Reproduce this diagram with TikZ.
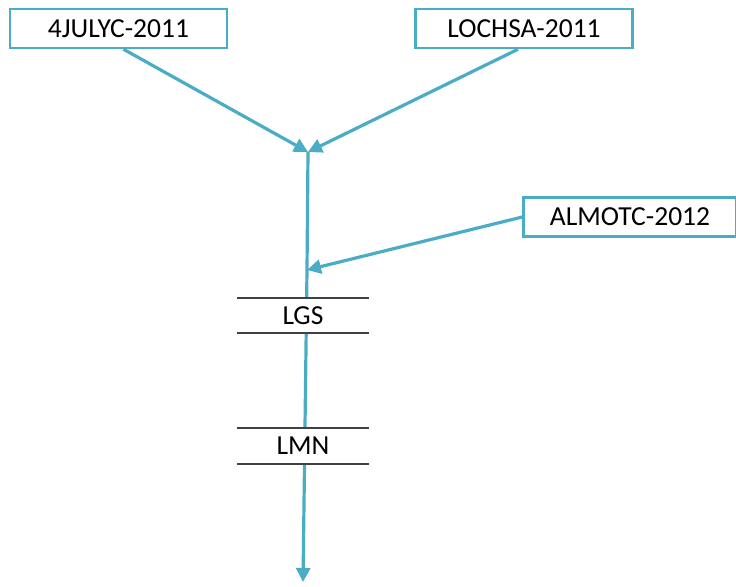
\documentclass[tikz,border=0pt]{standalone}
\usepackage{fontspec}
\setmainfont{Carlito}
\usetikzlibrary{arrows.meta}
\definecolor{acc}{HTML}{4BACC6}
\definecolor{dsline}{HTML}{404040}
\begin{document}
\begin{tikzpicture}[x=1bp,y=-1bp,
  srcbox/.style={draw=acc,line width=2.5bp,fill=white,minimum width=217bp,minimum height=39bp,inner sep=0pt,font=\fontsize{27.5bp}{30bp}\selectfont},
  store/.style={fill=white,minimum width=131bp,minimum height=35bp,inner sep=0pt,font=\fontsize{27.5bp}{30bp}\selectfont},
  flow/.style={draw=acc,line width=3.2bp,-{Triangle[length=14bp,width=14bp]}}]
\useasboundingbox (0,0) rectangle (736,587);
\node[srcbox] (a) at (118.5,28.5) {4JULYC-2011};
\node[srcbox] (b) at (524,28.5) {LOCHSA-2011};
\node[srcbox,minimum width=213bp] (c) at (630,217) {ALMOTC-2012};
\coordinate (j) at (308,152);
\coordinate (m) at (307,270);
\coordinate (e) at (303,582);
\draw[flow] (a.south) ++(5,0) -- (j);
\draw[flow] (b.south) ++(-6,0) -- (j);
\draw[flow] (c.west) -- (m);
\draw[draw=acc,line width=3.2bp] (j) -- (m);
\draw[flow] (m) -- (e);
\node[store] (lgs) at (303,315.5) {LGS};
\node[store] (lmn) at (303,446) {LMN};
\foreach \n in {lgs,lmn}{
  \draw[dsline,line width=2bp] (\n.north west) -- (\n.north east);
  \draw[dsline,line width=2bp] (\n.south west) -- (\n.south east);
}
\end{tikzpicture}
\end{document}
